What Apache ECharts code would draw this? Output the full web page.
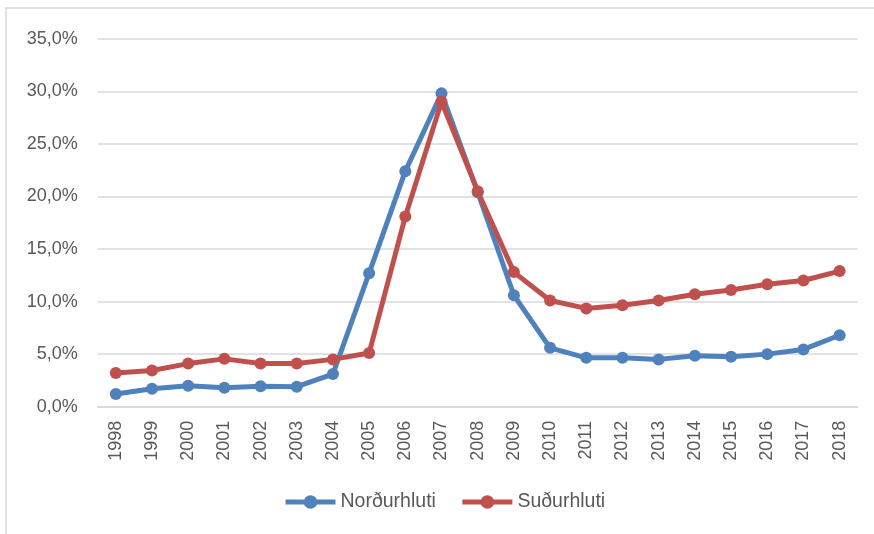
<!DOCTYPE html>
<html><head><meta charset="utf-8">
<script src="https://cdn.jsdelivr.net/npm/echarts@6/dist/echarts.min.js"></script>
<style>html,body{margin:0;padding:0;background:#fff}#c{width:874px;height:534px}</style>
</head><body><div id="c"></div>
<script>
var years = ['1998','1999','2000','2001','2002','2003','2004','2005','2006','2007','2008','2009','2010','2011','2012','2013','2014','2015','2016','2017','2018'];
var nordurhluti = [1.2,1.7,2.0,1.8,1.95,1.9,3.1,12.7,22.4,29.8,20.4,10.6,5.6,4.65,4.65,4.5,4.85,4.75,5.0,5.45,6.8];
var sudurhluti = [3.2,3.45,4.1,4.55,4.1,4.1,4.5,5.1,18.1,29.0,20.5,12.8,10.1,9.35,9.65,10.1,10.7,11.1,11.65,12.0,12.9];
var yTicks = {min:0, max:35, interval:5};
var names = ['Norðurhluti','Suðurhluti'];
var colors = ['#4F81BD','#C0504D'];
var font = 'Liberation Sans, Arial, sans-serif';
var chart = echarts.init(document.getElementById('c'));
chart.setOption({
  animation:false,
  graphic:[{type:'rect',shape:{x:6,y:8,width:900,height:560},style:{fill:'none',stroke:'#d9d9d9',lineWidth:1.5},silent:true}],
  grid:{left:97.7,right:16.3,top:38.7,bottom:127.3,containLabel:false},
  legend:{top:487,left:278,itemWidth:50,itemHeight:17,itemGap:24,
    textStyle:{fontFamily:font,fontSize:19.5,color:'#595959'},
    lineStyle:{width:5},
    data:names},
  xAxis:{type:'category',data:years,boundaryGap:true,
    axisLine:{show:true,lineStyle:{color:'#d9d9d9',width:1.5}},axisTick:{show:false},
    axisLabel:{rotate:90,fontFamily:font,fontSize:18,color:'#595959',margin:14}},
  yAxis:{type:'value',min:yTicks.min,max:yTicks.max,interval:yTicks.interval,
    axisLine:{show:false},axisTick:{show:false},
    splitLine:{lineStyle:{color:'#d9d9d9',width:1.5}},
    axisLabel:{fontFamily:font,fontSize:18,color:'#595959',margin:20,
      formatter:function(v){return v.toFixed(1).replace('.',',')+'%';}}},
  series:[
    {name:names[0],type:'line',data:nordurhluti,symbol:'circle',symbolSize:12,
      lineStyle:{width:5,color:colors[0]},itemStyle:{color:colors[0]}},
    {name:names[1],type:'line',data:sudurhluti,symbol:'circle',symbolSize:12,
      lineStyle:{width:5,color:colors[1]},itemStyle:{color:colors[1]}}
  ]
});
</script></body></html>
